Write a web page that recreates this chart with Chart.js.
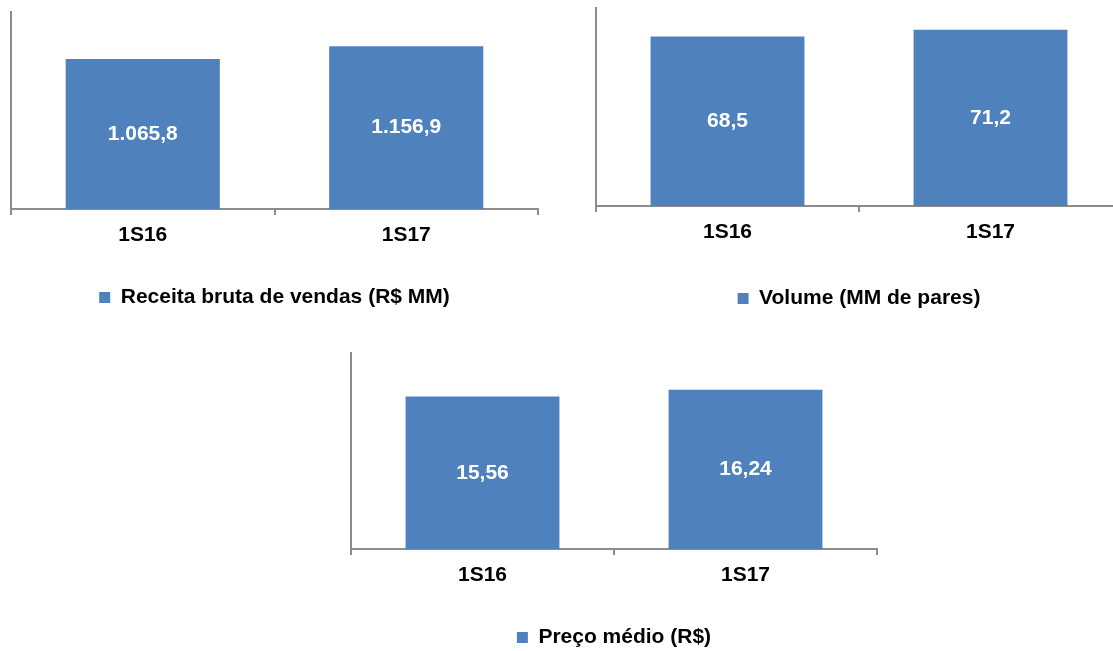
<!DOCTYPE html>
<html lang="pt-BR">
<head>
<meta charset="utf-8">
<title>Receita, volume e preço médio 1S16 x 1S17</title>
<script src="https://cdn.jsdelivr.net/npm/chart.js@4.4.1/dist/chart.umd.min.js"></script>
<style>
  html, body { margin: 0; padding: 0; background: #ffffff; }
  body { position: relative; width: 1113px; height: 651px; overflow: hidden; }
  .box { position: absolute; }
  #box-receita { left: 0; top: 0; }
  #box-volume { left: 590px; top: 0; }
  #box-preco { left: 345px; top: 340px; }
</style>
</head>
<body>
<div class="box" id="box-receita"><canvas id="chart-receita" width="553" height="320"></canvas></div>
<div class="box" id="box-volume"><canvas id="chart-volume" width="582" height="320"></canvas></div>
<div class="box" id="box-preco"><canvas id="chart-preco" width="543" height="320"></canvas></div>
<script>
"use strict";

const periods = ["1S16", "1S17"];
const receitaValues = [1065.8, 1156.9];
const volumeValues = [68.5, 71.2];
const precoValues = [15.56, 16.24];

const BAR_COLOR = "#4f81bd";
const AXIS_COLOR = "#8c8c8c";
const FONT_FAMILY = "'Liberation Sans', Arial, sans-serif";

function fmtBR(value, digits) {
  const [int, dec] = value.toFixed(digits).split(".");
  return int.replace(/\B(?=(\d{3})+(?!\d))/g, ".") + "," + dec;
}

// white value centred inside each bar
function valueLabels(digits) {
  return {
    id: "valueLabels",
    afterDatasetsDraw(chart) {
      const { ctx } = chart;
      const meta = chart.getDatasetMeta(0);
      const data = chart.data.datasets[0].data;
      ctx.save();
      ctx.fillStyle = "#ffffff";
      ctx.font = `bold 21px ${FONT_FAMILY}`;
      ctx.textAlign = "center";
      ctx.textBaseline = "middle";
      meta.data.forEach((bar, i) => {
        const { x, y, base } = bar.getProps(["x", "y", "base"], true);
        ctx.fillText(fmtBR(data[i], digits), x, (y + base) / 2);
      });
      ctx.restore();
    },
  };
}

function makeChart(id, values, legendText, yMax, digits, pad, axisHeight) {
  return new Chart(document.getElementById(id), {
    type: "bar",
    data: {
      labels: periods,
      datasets: [{
        label: legendText,
        data: values,
        backgroundColor: BAR_COLOR,
        borderWidth: 0,
        barPercentage: 0.585,
        categoryPercentage: 1,
      }],
    },
    options: {
      responsive: false,
      devicePixelRatio: 1,
      animation: false,
      layout: { padding: pad },
      scales: {
        x: {
          offset: true,
          grid: { display: true, offset: true, drawOnChartArea: false, drawTicks: true, tickLength: 6, color: AXIS_COLOR, lineWidth: 2 },
          border: { display: true, color: AXIS_COLOR, width: 2 },
          ticks: { color: "#000000", padding: 8, font: { family: FONT_FAMILY, size: 21, weight: "bold" } },
          afterFit(scale) { scale.height = axisHeight; },
        },
        y: {
          min: 0,
          max: yMax,
          grid: { display: false },
          border: { display: true, color: AXIS_COLOR, width: 2 },
          ticks: { display: false },
          afterFit(scale) { scale.width = 0; },
        },
      },
      plugins: {
        legend: {
          position: "bottom",
          labels: {
            color: "#000000",
            boxWidth: 11,
            boxHeight: 11,
            padding: 10,
            font: { family: FONT_FAMILY, size: 21, weight: "bold" },
          },
        },
        tooltip: { enabled: false },
      },
    },
    plugins: [valueLabels(digits)],
  });
}

makeChart("chart-receita", receitaValues, "Receita bruta de vendas (R$ MM)", 1400, 1,
  { top: 12, left: 11, right: 15, bottom: 2 }, 68);
makeChart("chart-volume", volumeValues, "Volume (MM de pares)", 80, 1,
  { top: 8, left: 6, right: 50, bottom: 1 }, 72);
makeChart("chart-preco", precoValues, "Preço médio (R$)", 20, 2,
  { top: 13, left: 6, right: 11, bottom: 2 }, 68);
</script>
</body>
</html>
